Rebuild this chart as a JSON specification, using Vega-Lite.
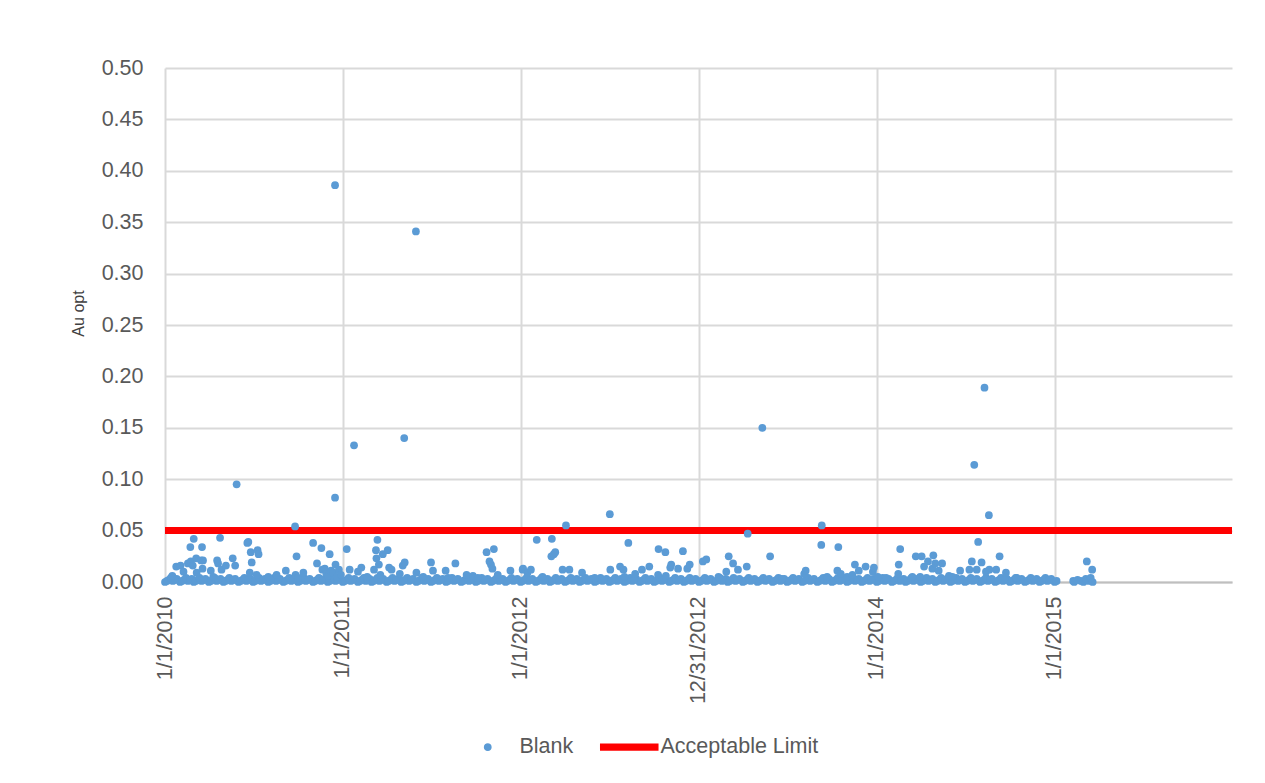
{
  "$schema": "https://vega.github.io/schema/vega-lite/v6.json",
  "width": 1067,
  "height": 514,
  "autosize": {"type": "none"},
  "padding": {"left": 165, "top": 68, "right": 33, "bottom": 201},
  "background": "white",
  "config": {
    "view": {"stroke": null},
    "font": "Liberation Sans"
  },
  "datasets": {
    "limit": [{"v": 0.05}],
    "blank": [
      {"d":"2010-01-01","v":0},{"d":"2010-01-09","v":0.002},{"d":"2010-01-17","v":0.001},{"d":"2010-01-25","v":0.003},
      {"d":"2010-02-01","v":0},{"d":"2010-02-09","v":0.002},{"d":"2010-02-17","v":0.001},{"d":"2010-02-25","v":0.003},
      {"d":"2010-03-01","v":0},{"d":"2010-03-09","v":0.002},{"d":"2010-03-17","v":0.001},{"d":"2010-03-25","v":0.003},
      {"d":"2010-04-01","v":0},{"d":"2010-04-09","v":0.002},{"d":"2010-04-17","v":0.001},{"d":"2010-04-25","v":0.003},
      {"d":"2010-05-01","v":0},{"d":"2010-05-09","v":0.002},{"d":"2010-05-17","v":0.001},{"d":"2010-05-25","v":0.003},
      {"d":"2010-06-01","v":0},{"d":"2010-06-09","v":0.002},{"d":"2010-06-17","v":0.001},{"d":"2010-06-25","v":0.003},
      {"d":"2010-07-01","v":0},{"d":"2010-07-09","v":0.002},{"d":"2010-07-17","v":0.001},{"d":"2010-07-25","v":0.003},
      {"d":"2010-08-01","v":0},{"d":"2010-08-09","v":0.002},{"d":"2010-08-17","v":0.001},{"d":"2010-08-25","v":0.003},
      {"d":"2010-09-01","v":0},{"d":"2010-09-09","v":0.002},{"d":"2010-09-17","v":0.001},{"d":"2010-09-25","v":0.003},
      {"d":"2010-10-01","v":0},{"d":"2010-10-09","v":0.002},{"d":"2010-10-17","v":0.001},{"d":"2010-10-25","v":0.003},
      {"d":"2010-11-01","v":0},{"d":"2010-11-09","v":0.002},{"d":"2010-11-17","v":0.001},{"d":"2010-11-25","v":0.003},
      {"d":"2010-12-01","v":0},{"d":"2010-12-09","v":0.002},{"d":"2010-12-17","v":0.001},{"d":"2010-12-25","v":0.003},
      {"d":"2011-01-01","v":0},{"d":"2011-01-09","v":0.002},{"d":"2011-01-17","v":0.001},{"d":"2011-01-25","v":0.003},
      {"d":"2011-02-01","v":0},{"d":"2011-02-09","v":0.002},{"d":"2011-02-17","v":0.001},{"d":"2011-02-25","v":0.003},
      {"d":"2011-03-01","v":0},{"d":"2011-03-09","v":0.002},{"d":"2011-03-17","v":0.001},{"d":"2011-03-25","v":0.003},
      {"d":"2011-04-01","v":0},{"d":"2011-04-09","v":0.002},{"d":"2011-04-17","v":0.001},{"d":"2011-04-25","v":0.003},
      {"d":"2011-05-01","v":0},{"d":"2011-05-09","v":0.002},{"d":"2011-05-17","v":0.001},{"d":"2011-05-25","v":0.003},
      {"d":"2011-06-01","v":0},{"d":"2011-06-09","v":0.002},{"d":"2011-06-17","v":0.001},{"d":"2011-06-25","v":0.003},
      {"d":"2011-07-01","v":0},{"d":"2011-07-09","v":0.002},{"d":"2011-07-17","v":0.001},{"d":"2011-07-25","v":0.003},
      {"d":"2011-08-01","v":0},{"d":"2011-08-09","v":0.002},{"d":"2011-08-17","v":0.001},{"d":"2011-08-25","v":0.003},
      {"d":"2011-09-01","v":0},{"d":"2011-09-09","v":0.002},{"d":"2011-09-17","v":0.001},{"d":"2011-09-25","v":0.003},
      {"d":"2011-10-01","v":0},{"d":"2011-10-09","v":0.002},{"d":"2011-10-17","v":0.001},{"d":"2011-10-25","v":0.003},
      {"d":"2011-11-01","v":0},{"d":"2011-11-09","v":0.002},{"d":"2011-11-17","v":0.001},{"d":"2011-11-25","v":0.003},
      {"d":"2011-12-01","v":0},{"d":"2011-12-09","v":0.002},{"d":"2011-12-17","v":0.001},{"d":"2011-12-25","v":0.003},
      {"d":"2012-01-01","v":0},{"d":"2012-01-09","v":0.002},{"d":"2012-01-17","v":0.001},{"d":"2012-01-25","v":0.003},
      {"d":"2012-02-01","v":0},{"d":"2012-02-09","v":0.002},{"d":"2012-02-17","v":0.001},{"d":"2012-02-25","v":0.003},
      {"d":"2012-03-01","v":0},{"d":"2012-03-09","v":0.002},{"d":"2012-03-17","v":0.001},{"d":"2012-03-25","v":0.003},
      {"d":"2012-04-01","v":0},{"d":"2012-04-09","v":0.002},{"d":"2012-04-17","v":0.001},{"d":"2012-04-25","v":0.003},
      {"d":"2012-05-01","v":0},{"d":"2012-05-09","v":0.002},{"d":"2012-05-17","v":0.001},{"d":"2012-05-25","v":0.003},
      {"d":"2012-06-01","v":0},{"d":"2012-06-09","v":0.002},{"d":"2012-06-17","v":0.001},{"d":"2012-06-25","v":0.003},
      {"d":"2012-07-01","v":0},{"d":"2012-07-09","v":0.002},{"d":"2012-07-17","v":0.001},{"d":"2012-07-25","v":0.003},
      {"d":"2012-08-01","v":0},{"d":"2012-08-09","v":0.002},{"d":"2012-08-17","v":0.001},{"d":"2012-08-25","v":0.003},
      {"d":"2012-09-01","v":0},{"d":"2012-09-09","v":0.002},{"d":"2012-09-17","v":0.001},{"d":"2012-09-25","v":0.003},
      {"d":"2012-10-01","v":0},{"d":"2012-10-09","v":0.002},{"d":"2012-10-17","v":0.001},{"d":"2012-10-25","v":0.003},
      {"d":"2012-11-01","v":0},{"d":"2012-11-09","v":0.002},{"d":"2012-11-17","v":0.001},{"d":"2012-11-25","v":0.003},
      {"d":"2012-12-01","v":0},{"d":"2012-12-09","v":0.002},{"d":"2012-12-17","v":0.001},{"d":"2012-12-25","v":0.003},
      {"d":"2013-01-01","v":0},{"d":"2013-01-09","v":0.002},{"d":"2013-01-17","v":0.001},{"d":"2013-01-25","v":0.003},
      {"d":"2013-02-01","v":0},{"d":"2013-02-09","v":0.002},{"d":"2013-02-17","v":0.001},{"d":"2013-02-25","v":0.003},
      {"d":"2013-03-01","v":0},{"d":"2013-03-09","v":0.002},{"d":"2013-03-17","v":0.001},{"d":"2013-03-25","v":0.003},
      {"d":"2013-04-01","v":0},{"d":"2013-04-09","v":0.002},{"d":"2013-04-17","v":0.001},{"d":"2013-04-25","v":0.003},
      {"d":"2013-05-01","v":0},{"d":"2013-05-09","v":0.002},{"d":"2013-05-17","v":0.001},{"d":"2013-05-25","v":0.003},
      {"d":"2013-06-01","v":0},{"d":"2013-06-09","v":0.002},{"d":"2013-06-17","v":0.001},{"d":"2013-06-25","v":0.003},
      {"d":"2013-07-01","v":0},{"d":"2013-07-09","v":0.002},{"d":"2013-07-17","v":0.001},{"d":"2013-07-25","v":0.003},
      {"d":"2013-08-01","v":0},{"d":"2013-08-09","v":0.002},{"d":"2013-08-17","v":0.001},{"d":"2013-08-25","v":0.003},
      {"d":"2013-09-01","v":0},{"d":"2013-09-09","v":0.002},{"d":"2013-09-17","v":0.001},{"d":"2013-09-25","v":0.003},
      {"d":"2013-10-01","v":0},{"d":"2013-10-09","v":0.002},{"d":"2013-10-17","v":0.001},{"d":"2013-10-25","v":0.003},
      {"d":"2013-11-01","v":0},{"d":"2013-11-09","v":0.002},{"d":"2013-11-17","v":0.001},{"d":"2013-11-25","v":0.003},
      {"d":"2013-12-01","v":0},{"d":"2013-12-09","v":0.002},{"d":"2013-12-17","v":0.001},{"d":"2013-12-25","v":0.003},
      {"d":"2014-01-01","v":0},{"d":"2014-01-09","v":0.002},{"d":"2014-01-17","v":0.001},{"d":"2014-01-25","v":0.003},
      {"d":"2014-02-01","v":0},{"d":"2014-02-09","v":0.002},{"d":"2014-02-17","v":0.001},{"d":"2014-02-25","v":0.003},
      {"d":"2014-03-01","v":0},{"d":"2014-03-09","v":0.002},{"d":"2014-03-17","v":0.001},{"d":"2014-03-25","v":0.003},
      {"d":"2014-04-01","v":0},{"d":"2014-04-09","v":0.002},{"d":"2014-04-17","v":0.001},{"d":"2014-04-25","v":0.003},
      {"d":"2014-05-01","v":0},{"d":"2014-05-09","v":0.002},{"d":"2014-05-17","v":0.001},{"d":"2014-05-25","v":0.003},
      {"d":"2014-06-01","v":0},{"d":"2014-06-09","v":0.002},{"d":"2014-06-17","v":0.001},{"d":"2014-06-25","v":0.003},
      {"d":"2014-07-01","v":0},{"d":"2014-07-09","v":0.002},{"d":"2014-07-17","v":0.001},{"d":"2014-07-25","v":0.003},
      {"d":"2014-08-01","v":0},{"d":"2014-08-09","v":0.002},{"d":"2014-08-17","v":0.001},{"d":"2014-08-25","v":0.003},
      {"d":"2014-09-01","v":0},{"d":"2014-09-09","v":0.002},{"d":"2014-09-17","v":0.001},{"d":"2014-09-25","v":0.003},
      {"d":"2014-10-01","v":0},{"d":"2014-10-09","v":0.002},{"d":"2014-10-17","v":0.001},{"d":"2014-10-25","v":0.003},
      {"d":"2014-11-01","v":0},{"d":"2014-11-09","v":0.002},{"d":"2014-11-17","v":0.001},{"d":"2014-11-25","v":0.003},
      {"d":"2014-12-01","v":0},{"d":"2014-12-09","v":0.002},{"d":"2014-12-17","v":0.001},{"d":"2014-12-25","v":0.003},

      {"d":"2010-01-05","v":0.001},{"d":"2010-01-13","v":0.004},{"d":"2010-01-21","v":0.002},
      {"d":"2010-02-05","v":0.001},{"d":"2010-02-13","v":0.004},{"d":"2010-02-21","v":0.002},
      {"d":"2010-03-05","v":0.001},{"d":"2010-03-13","v":0.004},{"d":"2010-03-21","v":0.002},
      {"d":"2010-04-05","v":0.001},{"d":"2010-04-13","v":0.004},{"d":"2010-04-21","v":0.002},
      {"d":"2010-05-05","v":0.001},{"d":"2010-05-13","v":0.004},{"d":"2010-05-21","v":0.002},
      {"d":"2010-06-05","v":0.001},{"d":"2010-06-13","v":0.004},{"d":"2010-06-21","v":0.002},
      {"d":"2010-07-05","v":0.001},{"d":"2010-07-13","v":0.004},{"d":"2010-07-21","v":0.002},
      {"d":"2010-08-05","v":0.001},{"d":"2010-08-13","v":0.004},{"d":"2010-08-21","v":0.002},
      {"d":"2010-09-05","v":0.001},{"d":"2010-09-13","v":0.004},{"d":"2010-09-21","v":0.002},
      {"d":"2010-10-05","v":0.001},{"d":"2010-10-13","v":0.004},{"d":"2010-10-21","v":0.002},
      {"d":"2010-11-05","v":0.001},{"d":"2010-11-13","v":0.004},{"d":"2010-11-21","v":0.002},
      {"d":"2010-12-05","v":0.001},{"d":"2010-12-13","v":0.004},{"d":"2010-12-21","v":0.002},
      {"d":"2011-01-05","v":0.001},{"d":"2011-01-13","v":0.004},{"d":"2011-01-21","v":0.002},
      {"d":"2011-02-05","v":0.001},{"d":"2011-02-13","v":0.004},{"d":"2011-02-21","v":0.002},
      {"d":"2011-03-05","v":0.001},{"d":"2011-03-13","v":0.004},{"d":"2011-03-21","v":0.002},
      {"d":"2011-04-05","v":0.001},{"d":"2011-04-13","v":0.004},{"d":"2011-04-21","v":0.002},
      {"d":"2011-05-05","v":0.001},{"d":"2011-05-13","v":0.004},{"d":"2011-05-21","v":0.002},
      {"d":"2011-06-05","v":0.001},{"d":"2011-06-13","v":0.004},{"d":"2011-06-21","v":0.002},
      {"d":"2011-07-05","v":0.001},{"d":"2011-07-13","v":0.004},{"d":"2011-07-21","v":0.002},
      {"d":"2011-08-05","v":0.001},{"d":"2011-08-13","v":0.004},{"d":"2011-08-21","v":0.002},
      {"d":"2011-09-05","v":0.001},{"d":"2011-09-13","v":0.004},{"d":"2011-09-21","v":0.002},
      {"d":"2011-10-05","v":0.001},{"d":"2011-10-13","v":0.004},{"d":"2011-10-21","v":0.002},
      {"d":"2011-11-05","v":0.001},{"d":"2011-11-13","v":0.004},{"d":"2011-11-21","v":0.002},
      {"d":"2011-12-05","v":0.001},{"d":"2011-12-13","v":0.004},{"d":"2011-12-21","v":0.002},
      {"d":"2012-01-05","v":0.001},{"d":"2012-01-13","v":0.004},{"d":"2012-01-21","v":0.002},
      {"d":"2012-02-05","v":0.001},{"d":"2012-02-13","v":0.004},{"d":"2012-02-21","v":0.002},
      {"d":"2012-03-05","v":0.001},{"d":"2012-03-13","v":0.004},{"d":"2012-03-21","v":0.002},
      {"d":"2012-04-05","v":0.001},{"d":"2012-04-13","v":0.004},{"d":"2012-04-21","v":0.002},
      {"d":"2012-05-05","v":0.001},{"d":"2012-05-13","v":0.004},{"d":"2012-05-21","v":0.002},
      {"d":"2012-06-05","v":0.001},{"d":"2012-06-13","v":0.004},{"d":"2012-06-21","v":0.002},
      {"d":"2012-07-05","v":0.001},{"d":"2012-07-13","v":0.004},{"d":"2012-07-21","v":0.002},
      {"d":"2012-08-05","v":0.001},{"d":"2012-08-13","v":0.004},{"d":"2012-08-21","v":0.002},
      {"d":"2012-09-05","v":0.001},{"d":"2012-09-13","v":0.004},{"d":"2012-09-21","v":0.002},
      {"d":"2012-10-05","v":0.001},{"d":"2012-10-13","v":0.004},{"d":"2012-10-21","v":0.002},
      {"d":"2012-11-05","v":0.001},{"d":"2012-11-13","v":0.004},{"d":"2012-11-21","v":0.002},
      {"d":"2012-12-05","v":0.001},{"d":"2012-12-13","v":0.004},{"d":"2012-12-21","v":0.002},
      {"d":"2013-01-05","v":0.001},{"d":"2013-01-13","v":0.004},{"d":"2013-01-21","v":0.002},
      {"d":"2013-02-05","v":0.001},{"d":"2013-02-13","v":0.004},{"d":"2013-02-21","v":0.002},
      {"d":"2013-03-05","v":0.001},{"d":"2013-03-13","v":0.004},{"d":"2013-03-21","v":0.002},
      {"d":"2013-04-05","v":0.001},{"d":"2013-04-13","v":0.004},{"d":"2013-04-21","v":0.002},
      {"d":"2013-05-05","v":0.001},{"d":"2013-05-13","v":0.004},{"d":"2013-05-21","v":0.002},
      {"d":"2013-06-05","v":0.001},{"d":"2013-06-13","v":0.004},{"d":"2013-06-21","v":0.002},
      {"d":"2013-07-05","v":0.001},{"d":"2013-07-13","v":0.004},{"d":"2013-07-21","v":0.002},
      {"d":"2013-08-05","v":0.001},{"d":"2013-08-13","v":0.004},{"d":"2013-08-21","v":0.002},
      {"d":"2013-09-05","v":0.001},{"d":"2013-09-13","v":0.004},{"d":"2013-09-21","v":0.002},
      {"d":"2013-10-05","v":0.001},{"d":"2013-10-13","v":0.004},{"d":"2013-10-21","v":0.002},
      {"d":"2013-11-05","v":0.001},{"d":"2013-11-13","v":0.004},{"d":"2013-11-21","v":0.002},
      {"d":"2013-12-05","v":0.001},{"d":"2013-12-13","v":0.004},{"d":"2013-12-21","v":0.002},
      {"d":"2014-01-05","v":0.001},{"d":"2014-01-13","v":0.004},{"d":"2014-01-21","v":0.002},
      {"d":"2014-02-05","v":0.001},{"d":"2014-02-13","v":0.004},{"d":"2014-02-21","v":0.002},
      {"d":"2014-03-05","v":0.001},{"d":"2014-03-13","v":0.004},{"d":"2014-03-21","v":0.002},
      {"d":"2014-04-05","v":0.001},{"d":"2014-04-13","v":0.004},{"d":"2014-04-21","v":0.002},
      {"d":"2014-05-05","v":0.001},{"d":"2014-05-13","v":0.004},{"d":"2014-05-21","v":0.002},
      {"d":"2014-06-05","v":0.001},{"d":"2014-06-13","v":0.004},{"d":"2014-06-21","v":0.002},
      {"d":"2014-07-05","v":0.001},{"d":"2014-07-13","v":0.004},{"d":"2014-07-21","v":0.002},
      {"d":"2014-08-05","v":0.001},{"d":"2014-08-13","v":0.004},{"d":"2014-08-21","v":0.002},
      {"d":"2014-09-05","v":0.001},{"d":"2014-09-13","v":0.004},{"d":"2014-09-21","v":0.002},
      {"d":"2014-10-05","v":0.001},{"d":"2014-10-13","v":0.004},{"d":"2014-10-21","v":0.002},
      {"d":"2014-11-05","v":0.001},{"d":"2014-11-13","v":0.004},{"d":"2014-11-21","v":0.002},
      {"d":"2014-12-05","v":0.001},{"d":"2014-12-13","v":0.004},{"d":"2014-12-21","v":0.002},

      {"d":"2015-01-01","v":0},{"d":"2015-01-05","v":0.001},
      {"d":"2015-02-08","v":0.001},{"d":"2015-02-10","v":0},{"d":"2015-02-17","v":0.002},{"d":"2015-02-24","v":0.001},
      {"d":"2015-03-01","v":0},{"d":"2015-03-06","v":0.003},{"d":"2015-03-08","v":0.020},{"d":"2015-03-12","v":0.001},
      {"d":"2015-03-16","v":0.004},{"d":"2015-03-19","v":0.012},{"d":"2015-03-20","v":0},

      {"d":"2010-01-16","v":0.006},{"d":"2010-01-24","v":0.015},{"d":"2010-02-02","v":0.016},{"d":"2010-02-08","v":0.010},
      {"d":"2010-02-17","v":0.018},{"d":"2010-02-23","v":0.020},{"d":"2010-02-22","v":0.034},{"d":"2010-02-27","v":0.016},
      {"d":"2010-03-01","v":0.042},{"d":"2010-03-06","v":0.023},{"d":"2010-03-07","v":0.009},{"d":"2010-03-16","v":0.021},
      {"d":"2010-03-18","v":0.034},{"d":"2010-03-19","v":0.013},{"d":"2010-03-20","v":0.021},{"d":"2010-04-05","v":0.011},
      {"d":"2010-04-10","v":0.005},{"d":"2010-04-18","v":0.021},{"d":"2010-04-20","v":0.018},{"d":"2010-04-24","v":0.043},
      {"d":"2010-04-27","v":0.012},{"d":"2010-05-06","v":0.016},{"d":"2010-05-20","v":0.023},{"d":"2010-05-25","v":0.016},
      {"d":"2010-05-28","v":0.095},{"d":"2010-06-19","v":0.038},{"d":"2010-06-21","v":0.039},{"d":"2010-06-24","v":0.009},
      {"d":"2010-06-26","v":0.029},{"d":"2010-06-28","v":0.019},{"d":"2010-07-08","v":0.007},{"d":"2010-07-10","v":0.031},
      {"d":"2010-07-12","v":0.027},{"d":"2010-08-01","v":0.005},{"d":"2010-08-18","v":0.007},{"d":"2010-09-06","v":0.011},
      {"d":"2010-09-25","v":0.054},{"d":"2010-09-26","v":0.007},{"d":"2010-09-28","v":0.025},{"d":"2010-10-01","v":0.004},
      {"d":"2010-10-12","v":0.009},{"d":"2010-11-01","v":0.038},{"d":"2010-11-09","v":0.018},{"d":"2010-11-18","v":0.033},
      {"d":"2010-11-20","v":0.012},{"d":"2010-11-25","v":0.013},{"d":"2010-11-28","v":0.008},{"d":"2010-12-02","v":0.006},
      {"d":"2010-12-05","v":0.027},{"d":"2010-12-08","v":0.011},{"d":"2010-12-12","v":0.009},{"d":"2010-12-16","v":0.386},
      {"d":"2010-12-16","v":0.082},{"d":"2010-12-17","v":0.017},{"d":"2010-12-20","v":0.005},{"d":"2010-12-24","v":0.012},
      {"d":"2010-12-28","v":0.007},

      {"d":"2011-01-09","v":0.032},{"d":"2011-01-15","v":0.012},{"d":"2011-01-24","v":0.133},{"d":"2011-02-01","v":0.010},
      {"d":"2011-02-08","v":0.014},{"d":"2011-02-20","v":0.005},{"d":"2011-03-06","v":0.012},{"d":"2011-03-10","v":0.031},
      {"d":"2011-03-11","v":0.023},{"d":"2011-03-13","v":0.041},{"d":"2011-03-16","v":0.017},{"d":"2011-03-19","v":0.007},
      {"d":"2011-03-24","v":0.027},{"d":"2011-04-03","v":0.031},{"d":"2011-04-06","v":0.014},{"d":"2011-04-11","v":0.012},
      {"d":"2011-04-28","v":0.008},{"d":"2011-05-04","v":0.016},{"d":"2011-05-08","v":0.019},{"d":"2011-05-07","v":0.140},
      {"d":"2011-05-31","v":0.341},{"d":"2011-06-01","v":0.009},{"d":"2011-06-15","v":0.005},{"d":"2011-07-01","v":0.019},
      {"d":"2011-07-05","v":0.011},{"d":"2011-07-31","v":0.011},{"d":"2011-08-05","v":0.004},{"d":"2011-08-20","v":0.018},
      {"d":"2011-09-12","v":0.007},{"d":"2011-09-25","v":0.006},{"d":"2011-10-05","v":0.004},{"d":"2011-10-23","v":0.029},
      {"d":"2011-10-29","v":0.020},{"d":"2011-11-01","v":0.017},{"d":"2011-11-04","v":0.013},{"d":"2011-11-07","v":0.032},
      {"d":"2011-11-15","v":0.007},{"d":"2011-12-11","v":0.011},

      {"d":"2012-01-05","v":0.012},{"d":"2012-01-06","v":0.013},{"d":"2012-01-15","v":0.009},{"d":"2012-01-22","v":0.012},
      {"d":"2012-02-03","v":0.041},{"d":"2012-02-15","v":0.005},{"d":"2012-03-04","v":0.025},{"d":"2012-03-05","v":0.042},
      {"d":"2012-03-09","v":0.027},{"d":"2012-03-12","v":0.029},{"d":"2012-03-27","v":0.012},{"d":"2012-04-03","v":0.055},
      {"d":"2012-04-10","v":0.012},{"d":"2012-05-06","v":0.009},{"d":"2012-06-01","v":0.004},{"d":"2012-07-02","v":0.066},
      {"d":"2012-07-03","v":0.012},{"d":"2012-07-23","v":0.015},{"d":"2012-07-30","v":0.012},{"d":"2012-08-01","v":0.005},
      {"d":"2012-08-09","v":0.038},{"d":"2012-08-23","v":0.008},{"d":"2012-09-06","v":0.012},{"d":"2012-09-21","v":0.015},
      {"d":"2012-10-09","v":0.007},{"d":"2012-10-10","v":0.032},{"d":"2012-10-24","v":0.029},{"d":"2012-10-25","v":0.006},
      {"d":"2012-11-03","v":0.014},{"d":"2012-11-05","v":0.017},{"d":"2012-11-19","v":0.013},{"d":"2012-11-29","v":0.030},
      {"d":"2012-12-08","v":0.013},{"d":"2012-12-13","v":0.017},

      {"d":"2013-01-09","v":0.020},{"d":"2013-01-16","v":0.022},{"d":"2013-02-10","v":0.005},{"d":"2013-02-26","v":0.010},
      {"d":"2013-03-03","v":0.025},{"d":"2013-03-12","v":0.018},{"d":"2013-03-22","v":0.012},{"d":"2013-04-09","v":0.015},
      {"d":"2013-04-11","v":0.047},{"d":"2013-05-11","v":0.150},{"d":"2013-05-27","v":0.025},{"d":"2013-06-20","v":0.003},
      {"d":"2013-08-05","v":0.008},{"d":"2013-08-08","v":0.011},{"d":"2013-09-10","v":0.055},{"d":"2013-09-09","v":0.036},
      {"d":"2013-09-21","v":0.005},{"d":"2013-10-12","v":0.011},{"d":"2013-10-14","v":0.034},{"d":"2013-10-19","v":0.008},
      {"d":"2013-11-01","v":0.005},{"d":"2013-11-12","v":0.007},{"d":"2013-11-17","v":0.017},{"d":"2013-11-25","v":0.011},
      {"d":"2013-12-09","v":0.015},{"d":"2013-12-24","v":0.010},{"d":"2013-12-26","v":0.014},

      {"d":"2014-01-03","v":0.005},{"d":"2014-01-20","v":0.004},{"d":"2014-02-14","v":0.008},{"d":"2014-02-15","v":0.017},
      {"d":"2014-02-18","v":0.032},{"d":"2014-03-15","v":0.005},{"d":"2014-03-22","v":0.025},{"d":"2014-03-31","v":0.005},
      {"d":"2014-04-03","v":0.025},{"d":"2014-04-08","v":0.015},{"d":"2014-04-16","v":0.020},{"d":"2014-04-25","v":0.013},
      {"d":"2014-04-27","v":0.026},{"d":"2014-05-01","v":0.018},{"d":"2014-05-08","v":0.011},{"d":"2014-05-15","v":0.018},
      {"d":"2014-05-29","v":0.006},{"d":"2014-06-05","v":0.005},{"d":"2014-06-21","v":0.011},{"d":"2014-07-10","v":0.012},
      {"d":"2014-07-15","v":0.020},{"d":"2014-07-20","v":0.114},{"d":"2014-07-25","v":0.012},{"d":"2014-07-28","v":0.039},
      {"d":"2014-08-04","v":0.019},{"d":"2014-08-10","v":0.189},{"d":"2014-08-13","v":0.010},{"d":"2014-08-19","v":0.065},
      {"d":"2014-08-20","v":0.012},{"d":"2014-09-03","v":0.012},{"d":"2014-09-10","v":0.025},{"d":"2014-09-23","v":0.009},
      {"d":"2014-10-15","v":0.004}
    ]
  },
  "encoding": {
    "x": {
      "field": "d",
      "type": "temporal",
      "scale": {
        "type": "utc",
        "domain": [
          {"year": 2010, "month": 1, "date": 1, "utc": true},
          {"year": 2015, "month": 12, "date": 31, "utc": true}
        ]
      },
      "axis": {
        "title": null,
        "values": [
          {"year": 2010, "month": 1, "date": 1, "utc": true},
          {"year": 2011, "month": 1, "date": 1, "utc": true},
          {"year": 2012, "month": 1, "date": 1, "utc": true},
          {"year": 2012, "month": 12, "date": 31, "utc": true},
          {"year": 2014, "month": 1, "date": 1, "utc": true},
          {"year": 2015, "month": 1, "date": 1, "utc": true}
        ],
        "labelExpr": "utcFormat(datum.value, '%-m/%-d/%Y')",
        "labelAngle": 270,
        "labelFontSize": 21.5,
        "labelColor": "#595959",
        "labelPadding": 14,
        "ticks": false,
        "domainColor": "#bfbfbf",
        "domainWidth": 2,
        "gridColor": "#d9d9d9",
        "gridWidth": 2,
        "labelFlush": false,
        "labelOverlap": false
      }
    }
  },
  "layer": [
    {
      "data": {"name": "limit"},
      "mark": {"type": "rule", "strokeWidth": 7, "strokeCap": "butt"},
      "encoding": {
        "x": null,
        "y": {"field": "v", "type": "quantitative"},
        "color": {"datum": "Acceptable Limit"}
      }
    },
    {
      "data": {"name": "blank"},
      "mark": {"type": "point", "filled": true, "opacity": 1, "size": 60},
      "encoding": {
        "y": {
          "field": "v",
          "type": "quantitative",
          "scale": {"domain": [0, 0.5], "nice": false},
          "axis": {
            "title": "Au opt",
            "titleFontSize": 16,
            "titleFontWeight": "normal",
            "titleColor": "#404040",
            "titlePadding": 15,
            "titleY": 245,
            "values": [0, 0.05, 0.1, 0.15, 0.2, 0.25, 0.3, 0.35, 0.4, 0.45, 0.5],
            "format": ".2f",
            "labelFontSize": 21.5,
            "labelColor": "#595959",
            "labelPadding": 22,
            "ticks": false,
            "domain": false,
            "gridColor": "#d9d9d9",
            "gridWidth": 2,
            "labelFlush": false
          }
        },
        "color": {
          "datum": "Blank",
          "scale": {
            "domain": ["Blank", "Acceptable Limit"],
            "range": ["#5B9BD5", "#FF0000"]
          },
          "legend": {
            "title": null,
            "orient": "none",
            "direction": "horizontal",
            "legendX": 312,
            "legendY": 668,
            "labelFontSize": 21.5,
            "labelColor": "#595959",
            "symbolSize": 40,
            "columnPadding": 23,
            "labelOffset": 21
          }
        },
        "shape": {
          "datum": "Blank",
          "scale": {
            "domain": ["Blank", "Acceptable Limit"],
            "range": ["circle", "M-8.86,-0.9H9.18V0.9H-8.86Z"]
          },
          "legend": {
            "title": null,
            "orient": "none",
            "direction": "horizontal",
            "legendX": 312,
            "legendY": 668,
            "labelFontSize": 21.5,
            "labelColor": "#595959",
            "symbolSize": 40,
            "columnPadding": 23,
            "labelOffset": 21
          }
        }
      }
    }
  ]
}
